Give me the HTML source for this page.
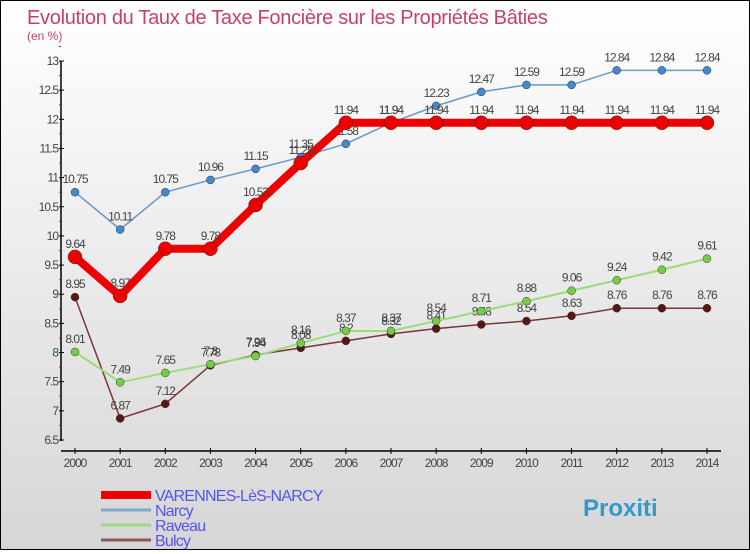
<!DOCTYPE html>
<html><head><meta charset="utf-8"><style>
html,body{margin:0;padding:0}
body{width:750px;height:550px;overflow:hidden;font-family:"Liberation Sans",sans-serif}
#c{position:absolute;left:0;top:0;width:748px;height:548px;border:1px solid #000;background:linear-gradient(#ffffff,#d6d6d6)}
</style></head><body>
<div id="c">
<svg id="s" width="748" height="548" xmlns="http://www.w3.org/2000/svg">
<text x="26" y="23" font-size="20" fill="#c8406a" letter-spacing="-0.3">Evolution du Taux de Taxe Foncière sur les Propriétés Bâties</text>
<text x="26" y="39" font-size="12" fill="#c8406a">(en %)</text>
<g id="g"></g>
</svg>
</div>
<script>
const years=[2000,2001,2002,2003,2004,2005,2006,2007,2008,2009,2010,2011,2012,2013,2014];
const yTicks=[6.5,7,7.5,8,8.5,9,9.5,10,10.5,11,11.5,12,12.5,13];
const varennes=[9.64,8.97,9.78,9.78,10.53,11.25,11.94,11.94,11.94,11.94,11.94,11.94,11.94,11.94,11.94];
const narcy=[10.75,10.11,10.75,10.96,11.15,11.35,11.58,11.94,12.23,12.47,12.59,12.59,12.84,12.84,12.84];
const raveau=[8.01,7.49,7.65,7.8,7.94,8.16,8.37,8.37,8.54,8.71,8.88,9.06,9.24,9.42,9.61];
const bulcy=[8.95,6.87,7.12,7.78,7.96,8.08,8.2,8.32,8.41,8.48,8.54,8.63,8.76,8.76,8.76];
const NS="http://www.w3.org/2000/svg";
const g=document.getElementById('g');
const X=i=>74+i*(706-74)/14;
const Y=v=>439-(v-6.5)*(439-60)/6.5;
function el(t,a,p){const e=document.createElementNS(NS,t);for(const k in a)e.setAttribute(k,a[k]);(p||g).appendChild(e);return e;}
let ya=el('line',{x1:60,y1:60,x2:60,y2:440,stroke:'#000','stroke-width':1.5});


let xa=el('line',{x1:60,y1:450,x2:720,y2:450,stroke:'#000','stroke-width':1.5});


yTicks.forEach(v=>{
  el('line',{x1:58,y1:Y(v),x2:63,y2:Y(v),stroke:'#000'});
  el('line',{x1:58,y1:Y(v+0.25),x2:60,y2:Y(v+0.25),stroke:'#f00'});
  const t=el('text',{x:57,y:Y(v)+4,'font-size':12,fill:'#444','text-anchor':'end','letter-spacing':'-1'});
  t.textContent=String(v);
  
  
});
years.forEach((y,i)=>{
  el('line',{x1:X(i),y1:447,x2:X(i),y2:453,stroke:'#000'});
  const t=el('text',{x:X(i),y:466,'font-size':12,fill:'#444','text-anchor':'middle','letter-spacing':'-1'});
  t.textContent=y;
  
  
});
function series(data,color,w,r,name,dot){
  const pts=data.map((v,i)=>X(i)+','+Y(v)).join(' ');
  const pl=el('polyline',{points:pts,fill:'none',stroke:color,'stroke-width':w});
  
  
  data.forEach((v,i)=>{
    const c=el('circle',{cx:X(i),cy:Y(v),r:r,fill:dot,stroke:'#333','stroke-width':0.5});
    
    
    const t=el('text',{x:X(i),y:Y(v)-9,'font-size':12,fill:'#444','text-anchor':'middle','letter-spacing':'-1'});
    t.textContent=String(v);
    
    
  });
}
series(bulcy,'#7a3535',1.5,4,'bulcy','#5a1515');
series(raveau,'#99dd77',2,4,'raveau','#77cc44');
series(narcy,'#6699cc',1.5,4,'narcy','#4488cc');
series(varennes,'#ee0000',8,7,'varennes','#ee0000');
const leg=[['VARENNES-LèS-NARCY','#ee0000',8],['Narcy','#7fa7cc',3],['Raveau','#a0d888',3],['Bulcy','#8a5a5a',3]];
leg.forEach((l,i)=>{
  const y=494+i*15;
  const ln=el('line',{x1:100,y1:y,x2:150,y2:y,stroke:l[1],'stroke-width':l[2]});
  
  
  const t=el('text',{x:154,y:y+6,'font-size':16,fill:'#5555ee','letter-spacing':'-0.8'});
  t.textContent=l[0];
  
  
});
const lg=el('text',{x:582,y:515,'font-size':24,'font-weight':'bold',fill:'#3399cc'});
lg.textContent='Proxiti';


</script>
</body></html>
